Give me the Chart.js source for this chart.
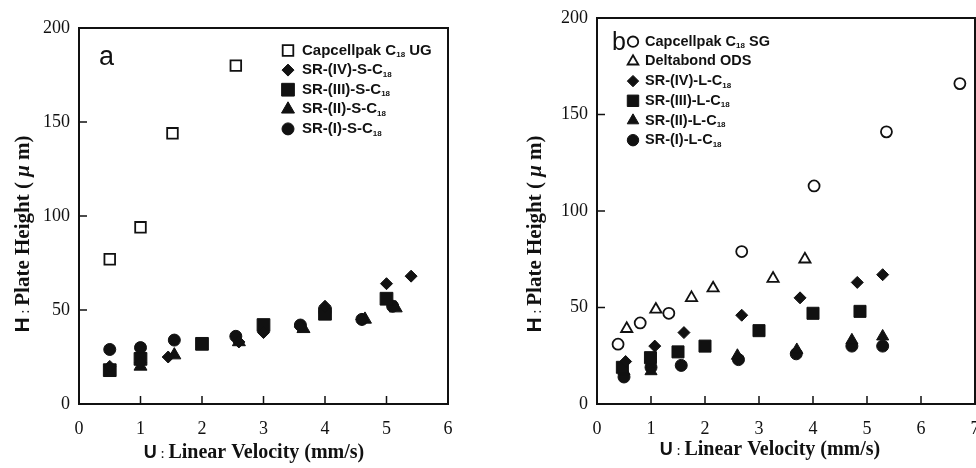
<!DOCTYPE html>
<html>
<head>
<meta charset="utf-8">
<script src="https://cdn.jsdelivr.net/npm/chart.js@4.4.1/dist/chart.umd.min.js"></script>
<style>
  body { margin: 0; background: #fff; width: 976px; height: 468px; overflow: hidden; position: relative; }
  canvas { position: absolute; top: 0; }
  #chartA { left: 0; }
  #chartB { left: 488px; }
</style>
</head>
<body>
<canvas id="chartA" width="488" height="468"></canvas>
<canvas id="chartB" width="488" height="468"></canvas>
<script>
// Plate height vs linear velocity, points are [U (mm/s), H (um)]

// panel a - short chain phases
const aCapUG = [[0.5, 77], [1.0, 94], [1.52, 144], [2.55, 180]];
const aSR4 = [[0.5, 20], [1.0, 22], [1.45, 25], [2.6, 33], [3.0, 38], [3.6, 41], [4.0, 52], [4.6, 45], [5.0, 64], [5.4, 68]];
const aSR3 = [[0.5, 18], [1.0, 24], [2.0, 32], [3.0, 42], [4.0, 48], [5.0, 56]];
const aSR2 = [[1.0, 20], [1.55, 26], [2.6, 33], [3.65, 40], [4.65, 45], [5.15, 51]];
const aSR1 = [[0.5, 29], [1.0, 30], [1.55, 34], [2.55, 36], [3.6, 42], [4.0, 49], [4.6, 45], [5.1, 52]];

// panel b - long chain phases
const bCapSG = [[0.39, 31], [0.8, 42], [1.33, 47], [2.68, 79], [4.02, 113], [5.36, 141], [6.72, 166]];
const bDelta = [[0.55, 39], [1.09, 49], [1.75, 55], [2.15, 60], [3.26, 65], [3.85, 75]];
const bSR4 = [[0.53, 22], [1.07, 30], [1.61, 37], [2.68, 46], [3.76, 55], [4.82, 63], [5.29, 67]];
const bSR3 = [[0.47, 19], [0.99, 24], [1.5, 27], [2.0, 30], [3.0, 38], [4.0, 47], [4.87, 48]];
const bSR2 = [[0.5, 17], [1.0, 17], [2.6, 25], [3.7, 28], [4.72, 33], [5.29, 35]];
const bSR1 = [[0.5, 14], [1.0, 19], [1.56, 20], [2.62, 23], [3.69, 26], [4.72, 30], [5.29, 30]];

const yTicks = [0, 50, 100, 150, 200];
const ink = '#111';
const serif = 'Liberation Serif';
const sans = 'Liberation Sans';

const series = (label, pts, style, radius, open) => ({
  label,
  data: pts.map(([u, h]) => ({ x: u, y: h })),
  pointStyle: style,
  pointRadius: radius,
  pointHoverRadius: radius,
  pointBackgroundColor: open ? '#fff' : ink,
  pointBorderColor: ink,
  pointBorderWidth: open ? 1.8 : 1,
  showLine: false,
  clip: false
});

// writes "C18" with the 18 as a subscript
function drawLegendText(ctx, text, x, y, size) {
  const parts = text.split('18');
  ctx.textBaseline = 'middle';
  ctx.textAlign = 'left';
  parts.forEach((p, i) => {
    ctx.font = `bold ${size}px ${sans}`;
    ctx.fillText(p, x, y);
    x += ctx.measureText(p).width;
    if (i < parts.length - 1) {
      ctx.font = `bold ${Math.round(size * 0.55)}px ${sans}`;
      ctx.fillText('18', x, y + size * 0.3);
      x += ctx.measureText('18').width;
    }
  });
}

function drawParts(ctx, parts, cx, base) {
  let w = 0;
  parts.forEach(p => { ctx.font = p.font; w += ctx.measureText(p.t).width; });
  let x = cx - w / 2;
  ctx.textAlign = 'left';
  ctx.textBaseline = 'alphabetic';
  parts.forEach(p => { ctx.font = p.font; ctx.fillText(p.t, x, base); x += ctx.measureText(p.t).width; });
}

const panelDecor = {
  id: 'panelDecor',
  afterDraw(chart, args, o) {
    const { ctx, chartArea: a, scales: { x, y } } = chart;
    ctx.save();
    ctx.strokeStyle = ink;
    ctx.fillStyle = ink;

    // frame
    ctx.lineWidth = 2;
    ctx.strokeRect(a.left, a.top, a.right - a.left, a.bottom - a.top);

    // inward tick marks
    ctx.lineWidth = 1.5;
    ctx.beginPath();
    y.ticks.forEach(t => {
      const py = y.getPixelForValue(t.value);
      ctx.moveTo(a.left, py); ctx.lineTo(a.left + 8, py);
    });
    x.ticks.forEach(t => {
      const px = x.getPixelForValue(t.value);
      ctx.moveTo(px, a.bottom); ctx.lineTo(px, a.bottom - 8);
    });
    ctx.stroke();

    // panel letter
    ctx.font = `${o.letterSize}px ${sans}`;
    ctx.textAlign = 'left';
    ctx.textBaseline = 'alphabetic';
    ctx.fillText(o.letter, o.letterX, o.letterY);

    // legend
    chart.data.datasets.forEach((ds, i) => {
      const ly = o.legY + i * o.legGap;
      ctx.fillStyle = ds.pointBackgroundColor;
      ctx.strokeStyle = ink;
      ctx.lineWidth = ds.pointBorderWidth;
      Chart.helpers.drawPoint(ctx, {
        pointStyle: ds.pointStyle,
        radius: ds.pointRadius * o.legScale,
        rotation: 0,
        borderWidth: ds.pointBorderWidth
      }, o.legMarkX, ly);
      ctx.fillStyle = ink;
      drawLegendText(ctx, ds.label, o.legTextX, ly, o.legSize);
    });

    // axis titles
    drawParts(ctx, [
      { t: 'U', font: `bold 18px ${sans}` },
      { t: ' : ', font: `15px ${serif}` },
      { t: 'Linear Velocity (mm/s)', font: `bold 20px ${serif}` }
    ], o.xTitleX, o.xTitleY);

    ctx.translate(o.yTitleX, o.yTitleY);
    ctx.rotate(-Math.PI / 2);
    drawParts(ctx, [
      { t: 'H', font: `bold 21px ${sans}` },
      { t: ' : ', font: `15px ${serif}` },
      { t: 'Plate Height ( ', font: `bold 21px ${serif}` },
      { t: 'μ', font: `italic bold 21px ${serif}` },
      { t: ' m)', font: `bold 21px ${serif}` }
    ], 0, 0);
    ctx.restore();
  }
};

function makePanel(id, datasets, xMax, box, decor) {
  const tickFont = { family: serif, size: 18 };
  return new Chart(document.getElementById(id), {
    type: 'scatter',
    data: { datasets },
    plugins: [panelDecor],
    options: {
      responsive: false,
      animation: false,
      devicePixelRatio: 1,
      layout: { autoPadding: false, padding: { left: 0, right: box.right, top: box.top, bottom: 0 } },
      plugins: { legend: { display: false }, tooltip: { enabled: false }, panelDecor: decor },
      scales: {
        x: {
          type: 'linear', min: 0, max: xMax,
          ticks: { stepSize: 1, color: ink, font: tickFont, padding: 14, maxRotation: 0, autoSkip: false },
          grid: { display: false, drawTicks: false },
          border: { display: false },
          afterFit(s) { s.height = 64; s.paddingLeft = 0; s.paddingRight = 0; }
        },
        y: {
          type: 'linear', min: 0, max: 200,
          afterBuildTicks(s) { s.ticks = yTicks.map(v => ({ value: v })); },
          ticks: { color: ink, font: tickFont, padding: 9 },
          grid: { display: false, drawTicks: false },
          border: { display: false },
          afterFit(s) { s.width = box.left; s.paddingTop = 0; s.paddingBottom = 0; }
        }
      }
    }
  });
}

makePanel('chartA', [
  series('Capcellpak C18 UG', aCapUG, 'rect', 7.5, true),
  series('SR-(IV)-S-C18', aSR4, 'rectRot', 6, false),
  series('SR-(III)-S-C18', aSR3, 'rect', 9, false),
  series('SR-(II)-S-C18', aSR2, 'triangle', 7.5, false),
  series('SR-(I)-S-C18', aSR1, 'circle', 6, false)
], 6, { left: 79, right: 40, top: 28 }, {
  letter: 'a', letterSize: 27, letterX: 99, letterY: 65,
  legY: 50.5, legGap: 19.6, legMarkX: 288, legTextX: 302, legSize: 15, legScale: 1,
  xTitleX: 254, xTitleY: 458, yTitleX: 29, yTitleY: 234
});

makePanel('chartB', [
  series('Capcellpak C18 SG', bCapSG, 'circle', 5.5, true),
  series('Deltabond ODS', bDelta, 'triangle', 6.5, true),
  series('SR-(IV)-L-C18', bSR4, 'rectRot', 6, false),
  series('SR-(III)-L-C18', bSR3, 'rect', 8.5, false),
  series('SR-(II)-L-C18', bSR2, 'triangle', 7, false),
  series('SR-(I)-L-C18', bSR1, 'circle', 6, false)
], 7, { left: 109, right: 1, top: 18 }, {
  letter: 'b', letterSize: 25, letterX: 124, letterY: 50,
  legY: 41.7, legGap: 19.7, legMarkX: 145, legTextX: 157, legSize: 14.5, legScale: 0.95,
  xTitleX: 282, xTitleY: 455, yTitleX: 53, yTitleY: 234
});
</script>
</body>
</html>
